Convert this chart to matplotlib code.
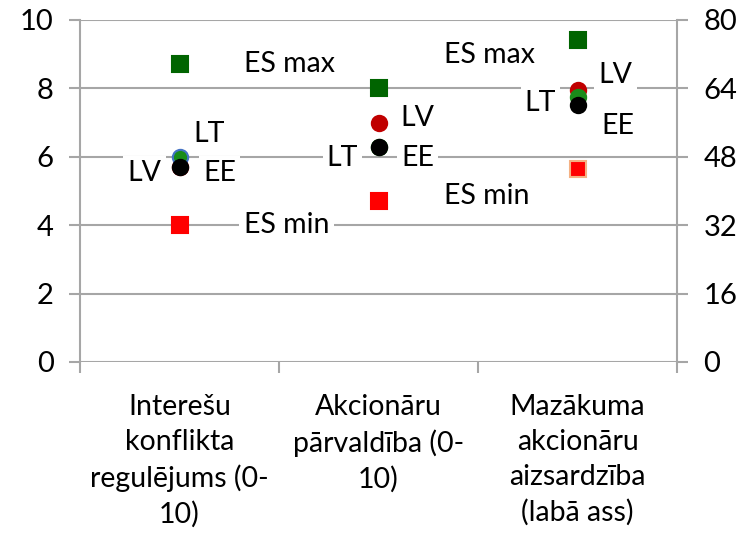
import matplotlib
matplotlib.use("Agg")
import matplotlib.pyplot as plt

plt.rcParams['font.family'] = ['Lato', 'DejaVu Sans']

kategorijas = ["Interešu\nkonflikta\nregulējums (0-\n10)",
               "Akcionāru\npārvaldība (0-\n10)",
               "Mazākuma\nakcionāru\naizsardzība\n(labā ass)"]
# pēdējā kategorija ir uz labās ass (0-80)
es_max = [8.7, 8.0, 75.3]
es_min = [4.0, 4.7, 45.1]
lv = [5.7, 7.0, 63.6]
lt = [6.0, 6.3, 62.0]
ee = [5.7, 6.3, 60.1]

kreisa_ticks = [0, 2, 4, 6, 8, 10]
laba_ticks = [0, 16, 32, 48, 64, 80]

# etiķešu nobīdes pikseļos (dx, dy) katrai kategorijai
nobides = {
    "ES max": [(110, 0), (111, 33), None],
    "ES min": [(107, 0), (108, 5), None],
    "LV": [(-35, -6), (39, 5), (38, 15)],
    "LT": [(30, 23), (-36, -11), (-37, -6)],
    "EE": [(40, -6), (39, -11), (40, -21)],
}

fig = plt.figure(figsize=(7.55, 5.34), dpi=100)
ax = fig.add_axes([80 / 755, 172 / 534, 597 / 755, 342 / 534])
ax2 = ax.twinx()

pelēks = '#a6a6a6'
fs = 20.5
ax.set_xlim(0, 3)
ax.set_ylim(0, 10)
ax2.set_ylim(0, 80)
ax.set_yticks(kreisa_ticks)
ax2.set_yticks(laba_ticks)
ax.grid(axis='y', color=pelēks, lw=1.5)
ax.set_axisbelow(True)

for a in (ax, ax2):
    for s in a.spines.values():
        s.set_visible(False)
    a.tick_params(axis='y', length=8, width=1.5, color=pelēks, labelsize=21, pad=11)
ax.spines['left'].set_visible(True)
ax.spines['left'].set_color(pelēks)
ax.spines['left'].set_linewidth(1.5)
ax2.spines['right'].set_visible(True)
ax2.spines['right'].set_color(pelēks)
ax2.spines['right'].set_linewidth(1.5)

ax.set_xticks([0, 1, 2, 3])
ax.set_xticklabels([])
ax.tick_params(axis='x', length=8, width=1.5, color=pelēks)
ax.set_xticks([0.5, 1.5, 2.5], minor=True)
ax.set_xticklabels(kategorijas, minor=True, fontsize=fs, linespacing=1.42)
ax.tick_params(axis='x', which='minor', length=0, pad=23)

serijas = [
    ("ES min", es_min, 's', '#ff0000', 12),
    ("ES max", es_max, 's', '#006400', 12),
    ("LV", lv, 'o', '#c00000', 11),
    ("LT", lt, 'o', '#1a8c1a', 11),
    ("EE", ee, 'o', '#000000', 11),
]

malas = {("LT", 0): '#4472c4', ("ES min", 2): '#f4b183'}

for nosaukums, vertibas, marker, krasa, izm in serijas:
    for i, v in enumerate(vertibas):
        a = ax2 if i == 2 else ax
        mala = malas.get((nosaukums, i), krasa)
        a.plot(i + 0.5, v, marker=marker, ms=izm, color=krasa, mec=mala,
               mew=1.5, ls='none', zorder=3, clip_on=False)
        nob = nobides[nosaukums][i]
        if nob is None:
            continue
        a.annotate(nosaukums, (i + 0.5, v), xytext=nob, textcoords='offset pixels',
                   ha='center', va='center', fontsize=fs, zorder=4,
                   bbox=dict(boxstyle='square,pad=0.15', fc='white', ec='none'))

fig.savefig("out.png", dpi=100)
